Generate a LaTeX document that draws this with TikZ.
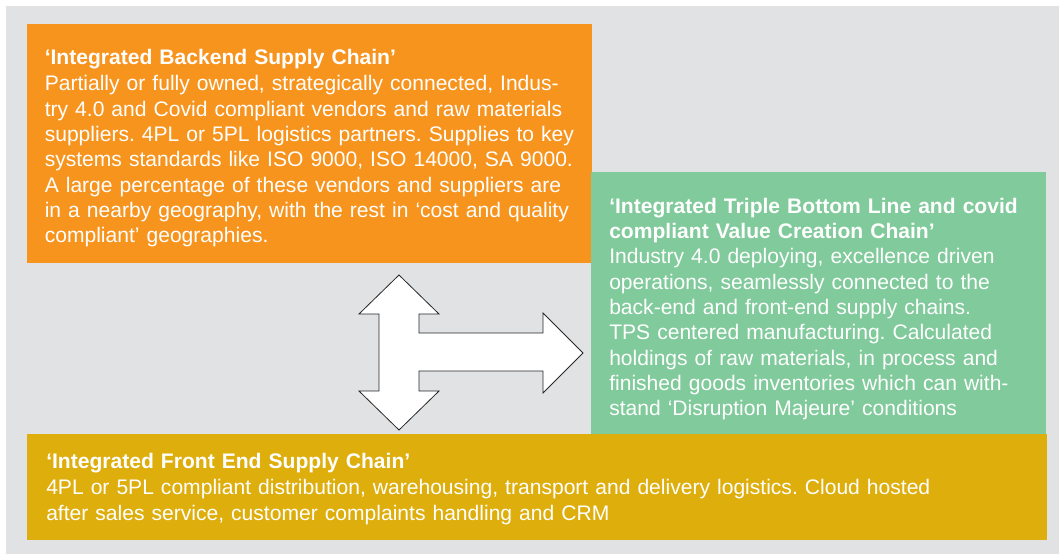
\documentclass[tikz,border=0pt]{standalone}
\usepackage{fontspec}
\setmainfont{Liberation Sans}
\usepackage{tikz}

\definecolor{backendorange}{HTML}{F7941E}
\definecolor{valuegreen}{HTML}{80CA9B}
\definecolor{frontgold}{HTML}{DEAE0C}
\definecolor{panelgray}{HTML}{E1E2E4}

\frenchspacing

\begin{document}
\begin{tikzpicture}[x=0.75pt, y=-0.75pt,
                    chain/.style={rectangle, inner sep=0pt, outer sep=0pt, anchor=north west},
                    blurb/.style={text=white, inner sep=0pt, anchor=base west,
                                  align=left, text width=#1,
                                  font=\fontsize{15.8}{19}\selectfont}]
                    \useasboundingbox (0,0) rectangle (1059,554);
                    \fill[panelgray] (6,6) rectangle (1059,554);

                    \node[chain, fill=backendorange, minimum width=423.75pt, minimum height=179.25pt]
                        (backend) at (27,24) {};
                    \node[chain, fill=valuegreen, minimum width=341.25pt, minimum height=196.5pt]
                        (value) at (591,172) {};
                    \node[chain, fill=frontgold, minimum width=765pt, minimum height=79.5pt]
                        (front) at (27,434) {};

                    % the three-way arrow between the chains
                    \draw[fill=white, draw=black!85, line width=0.6pt, line join=miter]
                        (399,275) -- (439,314) -- (419,314) -- (419,333) -- (543,333)
                        -- (543,313) -- (583,353) -- (543,393) -- (543,371) -- (419,371)
                        -- (419,391) -- (439,391) -- (399,430) -- (359,391) -- (379,391)
                        -- (379,314) -- (359,314) -- cycle;

                    \node[blurb=530pt] (backendtext) at ([shift={(17.5,40.3)}]backend.north west)
                        {\textbf{‘Integrated Backend Supply Chain’}\\[1pt]
                         Partially or fully owned, strategically connected, Indus-\\
                         try 4.0 and Covid compliant vendors and raw materials\\
                         suppliers. 4PL or 5PL logistics partners. Supplies to key\\
                         systems standards like ISO 9000, ISO 14000, SA 9000.\\
                         A large percentage of these vendors and suppliers are\\
                         in a nearby geography, with the rest in ‘cost and quality\\
                         compliant’ geographies.};
                    \node[blurb=430pt] (valuetext) at ([shift={(18,41.3)}]value.north west)
                        {\textbf{‘Integrated Triple Bottom Line and covid}\\
                         \textbf{compliant Value Creation Chain’}\\
                         Industry 4.0 deploying, excellence driven\\
                         operations, seamlessly connected to the\\
                         back-end and front-end supply chains.\\
                         TPS centered manufacturing. Calculated\\
                         holdings of raw materials, in process and\\
                         finished goods inventories which can with-\\
                         stand ‘Disruption Majeure’ conditions};
                    \node[blurb=980pt] (fronttext) at ([shift={(19,34)}]front.north west)
                        {\textbf{‘Integrated Front End Supply Chain’}\\[0.5pt]
                         4PL or 5PL compliant distribution, warehousing, transport and delivery logistics. Cloud hosted\\[0.5pt]
                         after sales service, customer complaints handling and CRM};
                \end{tikzpicture}
\end{document}
